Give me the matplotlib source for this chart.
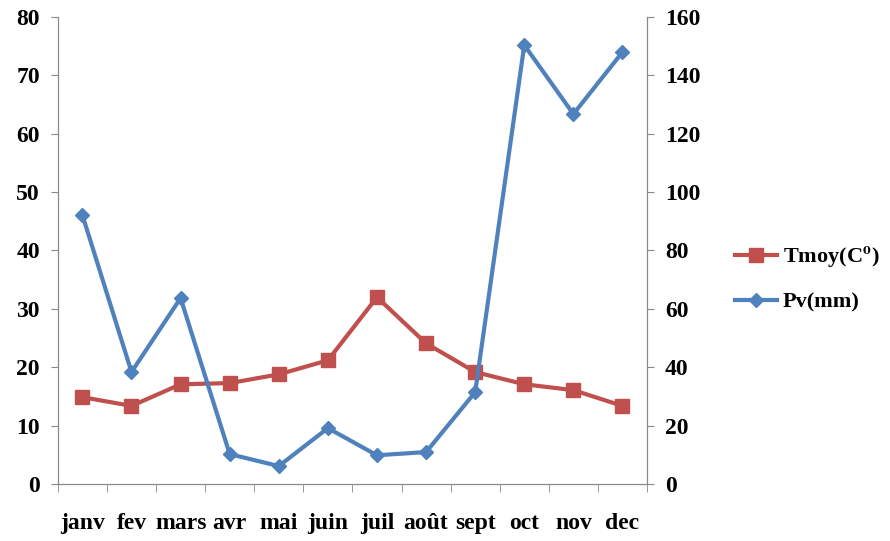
import numpy as np
import matplotlib.pyplot as plt

mois = ['janv', 'fev', 'mars', 'avr', 'mai', 'juin', 'juil', 'août', 'sept', 'oct', 'nov', 'dec']
tmoy = [14.9, 13.4, 17.1, 17.3, 18.8, 21.2, 32.0, 24.1, 19.2, 17.1, 16.1, 13.4]
pv = [92.1, 38.4, 63.7, 10.3, 6.2, 19.2, 9.9, 11.0, 31.5, 150.3, 126.7, 147.9]

plt.rcParams['font.family'] = ['Liberation Serif', 'DejaVu Serif']
plt.rcParams['font.weight'] = 'bold'
plt.rcParams['mathtext.fontset'] = 'stix'

rouge = '#c0504d'
bleu = '#4f81bd'
gris = '#888888'

fig = plt.figure(figsize=(8.9, 5.41), dpi=100)
ax = fig.add_axes([0.065, 0.105, 0.662, 0.864])
ax2 = ax.twinx()

x = np.arange(len(mois))
l1, = ax.plot(x, tmoy, color=rouge, lw=3, marker='s', ms=10, label=r'Tmoy(C$^\mathbf{o}$)', zorder=3)
l2, = ax2.plot(x, pv, color=bleu, lw=3, marker='D', ms=7, label='Pv(mm)', zorder=3)

ax.set_ylim(0, 80)
ax2.set_ylim(0, 160)
ax.set_xlim(-0.5, 11.5)
ax.set_yticks(range(0, 81, 10))
ax2.set_yticks(range(0, 161, 20))
ax.set_xticks(x)
ax.set_xticklabels(mois)
ax.set_xticks(np.arange(-0.5, 12, 1), minor=True)
ax.tick_params(axis='x', which='major', length=0, pad=21, labelsize=17)
ax.tick_params(axis='x', which='minor', length=6, color=gris, direction='out')
ax.tick_params(axis='y', length=5, color=gris, labelsize=17, pad=8)
ax2.tick_params(axis='y', length=5, color=gris, labelsize=17, pad=8)

for a in (ax, ax2):
    a.spines['top'].set_visible(False)
    for s in ('left', 'right', 'bottom'):
        a.spines[s].set_color(gris)

fig.legend(handles=[l1, l2], loc='center left', bbox_to_anchor=(0.826, 0.485),
           frameon=False, fontsize=16, handlelength=1.9, labelspacing=1.0,
           handletextpad=0.25, borderpad=0, borderaxespad=0)

fig.savefig('out.png', dpi=100)
